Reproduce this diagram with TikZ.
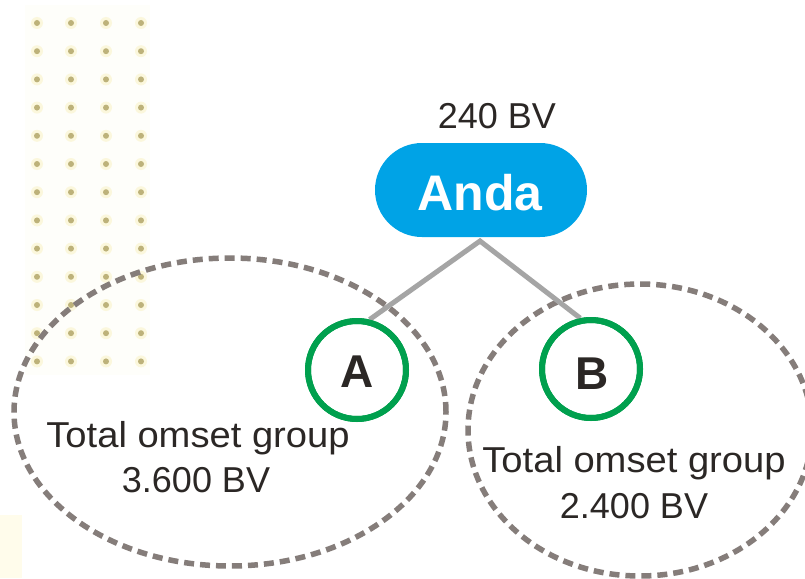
\documentclass[tikz,border=0pt]{standalone}
\usepackage{fontspec}
\usepackage{graphicx}
\setmainfont{Liberation Sans}
\usetikzlibrary{shapes.geometric,shapes.misc}
\definecolor{andablue}{HTML}{00A3E6}
\definecolor{ringgreen}{HTML}{00A04E}
\definecolor{linegray}{HTML}{A5A5A5}
\definecolor{dashgray}{HTML}{857D7A}
\definecolor{txt}{HTML}{2B2725}
\definecolor{dotc}{HTML}{BDB27A}
\definecolor{halo}{HTML}{FBF7DC}
\definecolor{bgfaint}{HTML}{FEFEFA}
\definecolor{stripc}{HTML}{FFFCEB}
\tikzset{
  grp/.style={ellipse, draw=dashgray, line width=5.5pt, dash pattern=on 10pt off 6pt, inner sep=0pt},
  ring/.style={circle, draw=ringgreen, line width=6pt, fill=white, minimum size=98pt, inner sep=0pt},
  letter/.style={text=txt, font=\fontsize{46}{46}\selectfont\bfseries, anchor=base, inner sep=0pt},
  conn/.style={draw=linegray, line width=5pt},
  lbl/.style={text=txt, font=\fontsize{36}{40}\selectfont, anchor=base, inner sep=0pt},
  pill/.style={rounded rectangle, fill=andablue, minimum width=212pt, minimum height=94pt, inner sep=0pt}
}
\begin{document}
\begin{tikzpicture}[x=1pt,y=-1pt]
\useasboundingbox (0,0) rectangle (805,578);
\fill[white] (0,0) rectangle (805,578);
% faint dot panel
\fill[bgfaint] (25,5) rectangle (150,375);
\fill[stripc] (0,515) rectangle (22,578);
\foreach \y in {23,51.2,79.4,107.6,135.8,164,192.2,220.4,248.6,276.8,305,333.2,361.4}{
  \foreach \x in {37,71,106,141}{
    \fill[halo] (\x,\y) circle (6);
    \fill[dotc] (\x,\y) circle (3);
  }
}
% group ellipses
\node[grp, minimum width=432pt, minimum height=308pt] (groupA) at (230,412) {};
\node[grp, minimum width=344pt, minimum height=292pt] (groupB) at (640,430) {};
% top node
\node[lbl] (bv) at (497,128) {240 BV};
\node[pill] (anda) at (481,190) {};
\node[text=white, font=\fontsize{50}{50}\selectfont\bfseries, anchor=base, inner sep=0pt] (andatxt) at (480,210) {Anda};
\coordinate (apex) at (480,241);
% circles
\node[ring] (A) at (357,370) {};
\node[ring] (B) at (591,369) {};
\draw[conn] (A.76) -- (apex) -- (B.102);
\node[ring, fill=none] (A2) at (357,370) {};
\node[ring, fill=none] (B2) at (591,369) {};
\node[letter] (Atxt) at (357,387) {A};
\node[letter] (Btxt) at (592,389) {B};
% group labels
\node[lbl] (tA) at (198,447) {\scalebox{1.06}[1]{Total omset group}};
\node[lbl] (vA) at (196,492) {3.600 BV};
\node[lbl] (tB) at (634,472) {\scalebox{1.06}[1]{Total omset group}};
\node[lbl] (vB) at (634,518) {2.400 BV};
\end{tikzpicture}
\end{document}
